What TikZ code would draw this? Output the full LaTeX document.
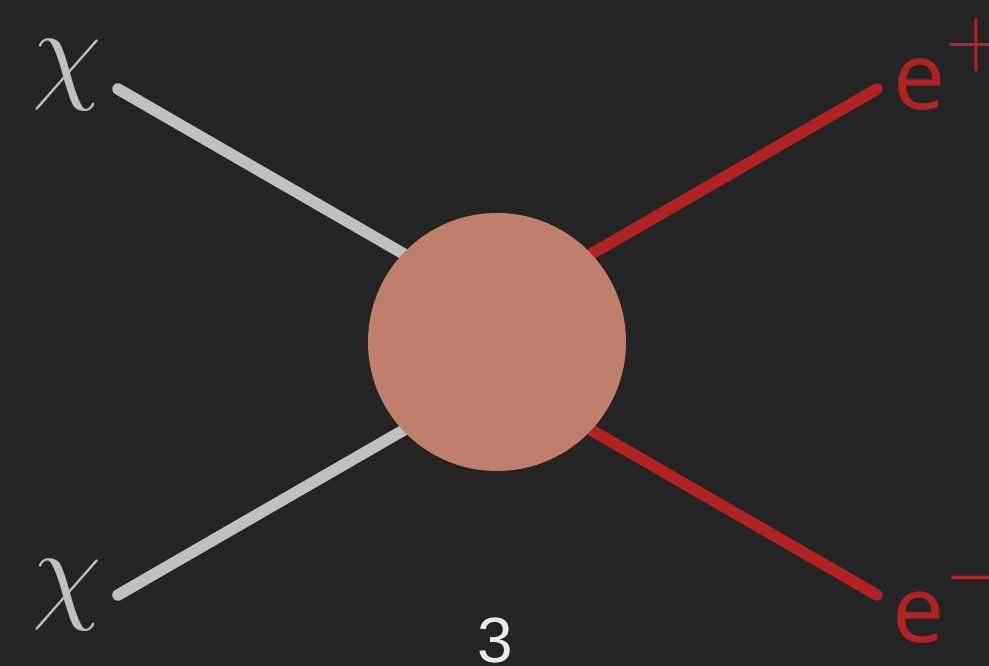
\documentclass[tikz,border=0pt]{standalone}
\usepackage{fix-cm}
\usepackage{fontspec}
\newfontfamily\efont{Open Sans}
\newfontfamily\numfont{Liberation Sans}
\definecolor{bgdark}{HTML}{242424}
\definecolor{chigrey}{HTML}{C0C0C0}
\definecolor{lepred}{HTML}{B22222}
\definecolor{blobfill}{HTML}{C07F6A}
\definecolor{numgrey}{HTML}{EAEAEA}
\begin{document}
\begin{tikzpicture}[x=1pt,y=-1pt,
  chiline/.style={line width=11.5pt,line cap=round,chigrey},
  eline/.style={line width=11.5pt,line cap=round,lepred},
  blob/.style={circle,fill=blobfill,minimum size=258pt,inner sep=0pt},
  chilabel/.style={anchor=base,inner sep=0pt,text=chigrey,font=\fontsize{113}{120}\selectfont},
  elabel/.style={anchor=base west,inner sep=0pt,text=lepred,font=\fontsize{93}{100}\selectfont\efont}]
\fill[bgdark] (0,0) rectangle (989,666);
\useasboundingbox (0,0) rectangle (989,666);

% outer ends, lines run at 30 degrees into the blob
\coordinate (chiin) at (118,89);
\coordinate (chiout) at (118,595);
\coordinate (epend) at (877,89);
\coordinate (emend) at (877,595);
\path (chiin) ++(30:380) coordinate (chiinv);
\path (chiout) ++(-30:380) coordinate (chioutv);
\path (epend) ++(150:380) coordinate (epv);
\path (emend) ++(-150:380) coordinate (emv);

\draw[chiline] (chiin)--(chiinv);
\draw[chiline] (chiout)--(chioutv);
\draw[eline] (epend)--(epv);
\draw[eline] (emend)--(emv);

\node[blob] (blob) at (497,342) {};

% labels
\node[chilabel] (chitop) at (67.5,89) {$\chi$};
\node[chilabel] (chibot) at (67.5,608) {$\chi$};
\node[elabel] (eplus) at (893,110) {e\raisebox{43pt}{\fontsize{86}{90}\selectfont$+$}};
\node[elabel] (eminus) at (892,642) {e\raisebox{43pt}{\fontsize{86}{90}\selectfont$-$}};
\node[anchor=base,inner sep=0pt,text=numgrey,font=\fontsize{64}{70}\selectfont\numfont] (pagenum) at (495.5,662) {3};
\end{tikzpicture}
\end{document}
